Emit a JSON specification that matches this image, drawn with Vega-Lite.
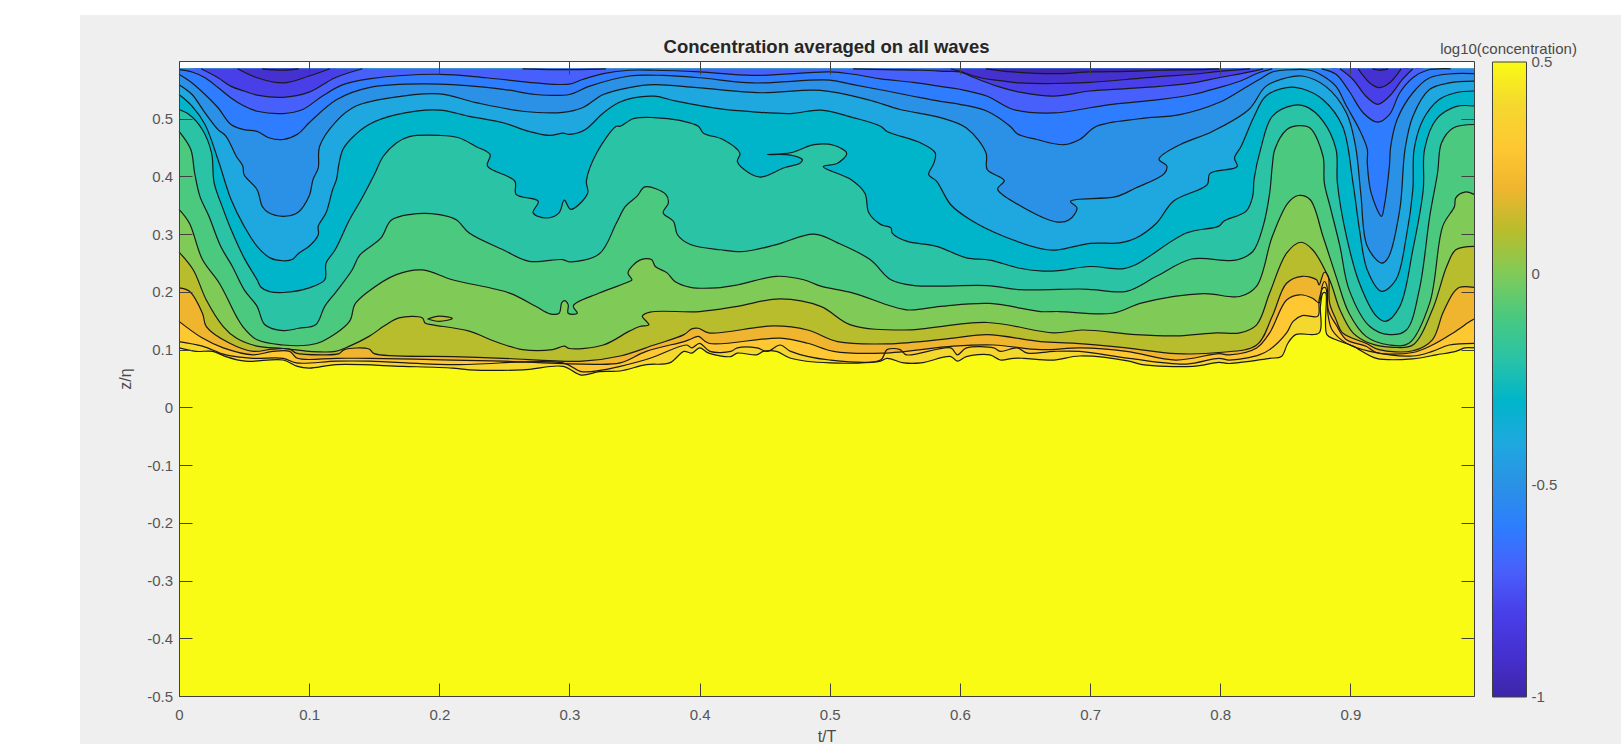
{"$schema":"https://vega.github.io/schema/vega-lite/v6.json","width":1295,"height":635,"autosize":{"type":"none"},"padding":{"left":179,"top":61,"right":147,"bottom":48},"background":"white","view":{"stroke":null},"config":{"font":"Liberation Sans"},
"title":{"text":"Concentration averaged on all waves","fontSize":18.5,"fontWeight":"bold","font":"Liberation Sans","color":"#262626","offset":-42},
"datasets":{"panel":[{"t0":-0.0761,"t1":1.108,"z0":-0.5831,"z1":0.6797}],"plot":[{"t0":0,"t1":0.995,"z0":-0.5,"z1":0.6}],
"contours":[
{"level":0.5,"t":0,"z":-0.5},{"level":0.5,"t":0.995,"z":-0.5},
{"level":0.4,"t":0,"z":0.103},{"level":0.4,"t":0.013,"z":0.097},{"level":0.4,"t":0.026,"z":0.097},{"level":0.4,"t":0.036,"z":0.088},{"level":0.4,"t":0.051,"z":0.08},{"level":0.4,"t":0.08,"z":0.082},{"level":0.4,"t":0.091,"z":0.071},{"level":0.4,"t":0.1,"z":0.068},{"level":0.4,"t":0.121,"z":0.074},{"level":0.4,"t":0.172,"z":0.071},{"level":0.4,"t":0.21,"z":0.068},{"level":0.4,"t":0.223,"z":0.065},{"level":0.4,"t":0.264,"z":0.065},{"level":0.4,"t":0.295,"z":0.071},{"level":0.4,"t":0.309,"z":0.056},{"level":0.4,"t":0.323,"z":0.062},{"level":0.4,"t":0.339,"z":0.063},{"level":0.4,"t":0.359,"z":0.074},{"level":0.4,"t":0.377,"z":0.077},{"level":0.4,"t":0.388,"z":0.097},{"level":0.4,"t":0.394,"z":0.094},{"level":0.4,"t":0.4,"z":0.103},{"level":0.4,"t":0.407,"z":0.094},{"level":0.4,"t":0.424,"z":0.088},{"level":0.4,"t":0.429,"z":0.094},{"level":0.4,"t":0.444,"z":0.091},{"level":0.4,"t":0.449,"z":0.097},{"level":0.4,"t":0.459,"z":0.097},{"level":0.4,"t":0.47,"z":0.085},{"level":0.4,"t":0.5,"z":0.077},{"level":0.4,"t":0.539,"z":0.08},{"level":0.4,"t":0.544,"z":0.085},{"level":0.4,"t":0.557,"z":0.077},{"level":0.4,"t":0.57,"z":0.077},{"level":0.4,"t":0.593,"z":0.088},{"level":0.4,"t":0.598,"z":0.08},{"level":0.4,"t":0.605,"z":0.088},{"level":0.4,"t":0.623,"z":0.091},{"level":0.4,"t":0.631,"z":0.082},{"level":0.4,"t":0.641,"z":0.085},{"level":0.4,"t":0.649,"z":0.085},{"level":0.4,"t":0.672,"z":0.082},{"level":0.4,"t":0.692,"z":0.089},{"level":0.4,"t":0.73,"z":0.08},{"level":0.4,"t":0.74,"z":0.074},{"level":0.4,"t":0.779,"z":0.071},{"level":0.4,"t":0.799,"z":0.078},{"level":0.4,"t":0.807,"z":0.076},{"level":0.4,"t":0.838,"z":0.085},{"level":0.4,"t":0.847,"z":0.088},{"level":0.4,"t":0.852,"z":0.111},{"level":0.4,"t":0.858,"z":0.126},{"level":0.4,"t":0.876,"z":0.129},{"level":0.4,"t":0.877,"z":0.175},{"level":0.4,"t":0.879,"z":0.198},{"level":0.4,"t":0.881,"z":0.198},{"level":0.4,"t":0.882,"z":0.126},{"level":0.4,"t":0.889,"z":0.117},{"level":0.4,"t":0.902,"z":0.106},{"level":0.4,"t":0.92,"z":0.085},{"level":0.4,"t":0.948,"z":0.084},{"level":0.4,"t":0.966,"z":0.091},{"level":0.4,"t":0.981,"z":0.097},{"level":0.4,"t":0.988,"z":0.103},{"level":0.4,"t":0.995,"z":0.103},
{"level":0.3,"t":0,"z":0.114},{"level":0.3,"t":0.018,"z":0.106},{"level":0.3,"t":0.036,"z":0.091},{"level":0.3,"t":0.057,"z":0.085},{"level":0.3,"t":0.08,"z":0.085},{"level":0.3,"t":0.09,"z":0.077},{"level":0.3,"t":0.121,"z":0.08},{"level":0.3,"t":0.146,"z":0.08},{"level":0.3,"t":0.21,"z":0.074},{"level":0.3,"t":0.295,"z":0.077},{"level":0.3,"t":0.309,"z":0.062},{"level":0.3,"t":0.326,"z":0.065},{"level":0.3,"t":0.339,"z":0.071},{"level":0.3,"t":0.362,"z":0.085},{"level":0.3,"t":0.39,"z":0.108},{"level":0.3,"t":0.394,"z":0.103},{"level":0.3,"t":0.4,"z":0.111},{"level":0.3,"t":0.408,"z":0.097},{"level":0.3,"t":0.424,"z":0.097},{"level":0.3,"t":0.429,"z":0.103},{"level":0.3,"t":0.444,"z":0.103},{"level":0.3,"t":0.452,"z":0.097},{"level":0.3,"t":0.462,"z":0.108},{"level":0.3,"t":0.47,"z":0.097},{"level":0.3,"t":0.5,"z":0.082},{"level":0.3,"t":0.539,"z":0.082},{"level":0.3,"t":0.544,"z":0.1},{"level":0.3,"t":0.554,"z":0.1},{"level":0.3,"t":0.559,"z":0.091},{"level":0.3,"t":0.593,"z":0.103},{"level":0.3,"t":0.598,"z":0.091},{"level":0.3,"t":0.605,"z":0.103},{"level":0.3,"t":0.626,"z":0.103},{"level":0.3,"t":0.631,"z":0.097},{"level":0.3,"t":0.644,"z":0.103},{"level":0.3,"t":0.652,"z":0.094},{"level":0.3,"t":0.672,"z":0.097},{"level":0.3,"t":0.692,"z":0.097},{"level":0.3,"t":0.73,"z":0.085},{"level":0.3,"t":0.774,"z":0.075},{"level":0.3,"t":0.799,"z":0.085},{"level":0.3,"t":0.807,"z":0.082},{"level":0.3,"t":0.83,"z":0.091},{"level":0.3,"t":0.838,"z":0.1},{"level":0.3,"t":0.851,"z":0.129},{"level":0.3,"t":0.856,"z":0.149},{"level":0.3,"t":0.863,"z":0.159},{"level":0.3,"t":0.875,"z":0.158},{"level":0.3,"t":0.876,"z":0.186},{"level":0.3,"t":0.879,"z":0.207},{"level":0.3,"t":0.881,"z":0.207},{"level":0.3,"t":0.883,"z":0.158},{"level":0.3,"t":0.886,"z":0.134},{"level":0.3,"t":0.897,"z":0.111},{"level":0.3,"t":0.915,"z":0.097},{"level":0.3,"t":0.948,"z":0.089},{"level":0.3,"t":0.963,"z":0.097},{"level":0.3,"t":0.976,"z":0.108},{"level":0.3,"t":0.995,"z":0.111},
{"level":0.2,"t":0,"z":0.149},{"level":0.2,"t":0.018,"z":0.12},{"level":0.2,"t":0.034,"z":0.103},{"level":0.2,"t":0.057,"z":0.091},{"level":0.2,"t":0.072,"z":0.097},{"level":0.2,"t":0.085,"z":0.097},{"level":0.2,"t":0.091,"z":0.085},{"level":0.2,"t":0.121,"z":0.085},{"level":0.2,"t":0.146,"z":0.085},{"level":0.2,"t":0.21,"z":0.082},{"level":0.2,"t":0.249,"z":0.08},{"level":0.2,"t":0.31,"z":0.075},{"level":0.2,"t":0.339,"z":0.077},{"level":0.2,"t":0.359,"z":0.097},{"level":0.2,"t":0.388,"z":0.114},{"level":0.2,"t":0.393,"z":0.118},{"level":0.2,"t":0.399,"z":0.123},{"level":0.2,"t":0.407,"z":0.111},{"level":0.2,"t":0.462,"z":0.12},{"level":0.2,"t":0.483,"z":0.111},{"level":0.2,"t":0.503,"z":0.097},{"level":0.2,"t":0.541,"z":0.094},{"level":0.2,"t":0.595,"z":0.106},{"level":0.2,"t":0.626,"z":0.108},{"level":0.2,"t":0.662,"z":0.1},{"level":0.2,"t":0.693,"z":0.103},{"level":0.2,"t":0.728,"z":0.097},{"level":0.2,"t":0.766,"z":0.082},{"level":0.2,"t":0.799,"z":0.093},{"level":0.2,"t":0.807,"z":0.091},{"level":0.2,"t":0.828,"z":0.103},{"level":0.2,"t":0.838,"z":0.129},{"level":0.2,"t":0.851,"z":0.186},{"level":0.2,"t":0.861,"z":0.195},{"level":0.2,"t":0.871,"z":0.189},{"level":0.2,"t":0.876,"z":0.181},{"level":0.2,"t":0.878,"z":0.207},{"level":0.2,"t":0.88,"z":0.218},{"level":0.2,"t":0.882,"z":0.21},{"level":0.2,"t":0.883,"z":0.169},{"level":0.2,"t":0.889,"z":0.143},{"level":0.2,"t":0.897,"z":0.117},{"level":0.2,"t":0.912,"z":0.106},{"level":0.2,"t":0.92,"z":0.095},{"level":0.2,"t":0.948,"z":0.095},{"level":0.2,"t":0.963,"z":0.108},{"level":0.2,"t":0.979,"z":0.129},{"level":0.2,"t":0.992,"z":0.149},{"level":0.2,"t":0.995,"z":0.153},
{"level":0.1,"t":0,"z":0.207},{"level":0.1,"t":0.008,"z":0.201},{"level":0.1,"t":0.018,"z":0.163},{"level":0.1,"t":0.021,"z":0.14},{"level":0.1,"t":0.039,"z":0.111},{"level":0.1,"t":0.057,"z":0.097},{"level":0.1,"t":0.072,"z":0.101},{"level":0.1,"t":0.085,"z":0.101},{"level":0.1,"t":0.09,"z":0.094},{"level":0.1,"t":0.11,"z":0.091},{"level":0.1,"t":0.123,"z":0.093},{"level":0.1,"t":0.127,"z":0.1},{"level":0.1,"t":0.146,"z":0.101},{"level":0.1,"t":0.15,"z":0.093},{"level":0.1,"t":0.21,"z":0.088},{"level":0.1,"t":0.249,"z":0.085},{"level":0.1,"t":0.31,"z":0.08},{"level":0.1,"t":0.339,"z":0.089},{"level":0.1,"t":0.365,"z":0.108},{"level":0.1,"t":0.388,"z":0.126},{"level":0.1,"t":0.394,"z":0.136},{"level":0.1,"t":0.399,"z":0.137},{"level":0.1,"t":0.407,"z":0.129},{"level":0.1,"t":0.457,"z":0.141},{"level":0.1,"t":0.483,"z":0.134},{"level":0.1,"t":0.506,"z":0.114},{"level":0.1,"t":0.544,"z":0.11},{"level":0.1,"t":0.595,"z":0.12},{"level":0.1,"t":0.621,"z":0.126},{"level":0.1,"t":0.662,"z":0.114},{"level":0.1,"t":0.689,"z":0.111},{"level":0.1,"t":0.728,"z":0.103},{"level":0.1,"t":0.766,"z":0.093},{"level":0.1,"t":0.799,"z":0.095},{"level":0.1,"t":0.828,"z":0.108},{"level":0.1,"t":0.84,"z":0.158},{"level":0.1,"t":0.851,"z":0.215},{"level":0.1,"t":0.863,"z":0.227},{"level":0.1,"t":0.874,"z":0.221},{"level":0.1,"t":0.876,"z":0.212},{"level":0.1,"t":0.878,"z":0.224},{"level":0.1,"t":0.88,"z":0.234},{"level":0.1,"t":0.883,"z":0.227},{"level":0.1,"t":0.884,"z":0.181},{"level":0.1,"t":0.889,"z":0.152},{"level":0.1,"t":0.894,"z":0.129},{"level":0.1,"t":0.912,"z":0.111},{"level":0.1,"t":0.922,"z":0.1},{"level":0.1,"t":0.948,"z":0.098},{"level":0.1,"t":0.963,"z":0.117},{"level":0.1,"t":0.971,"z":0.163},{"level":0.1,"t":0.979,"z":0.198},{"level":0.1,"t":0.984,"z":0.208},{"level":0.1,"t":0.995,"z":0.208},
{"level":0,"t":0,"z":0.269},{"level":0,"t":0.011,"z":0.238},{"level":0,"t":0.021,"z":0.186},{"level":0,"t":0.034,"z":0.14},{"level":0,"t":0.044,"z":0.12},{"level":0,"t":0.06,"z":0.106},{"level":0,"t":0.08,"z":0.102},{"level":0,"t":0.1,"z":0.097},{"level":0,"t":0.12,"z":0.097},{"level":0,"t":0.131,"z":0.106},{"level":0,"t":0.146,"z":0.123},{"level":0,"t":0.159,"z":0.143},{"level":0,"t":0.169,"z":0.155},{"level":0,"t":0.187,"z":0.155},{"level":0,"t":0.189,"z":0.146},{"level":0,"t":0.195,"z":0.143},{"level":0,"t":0.223,"z":0.132},{"level":0,"t":0.243,"z":0.114},{"level":0,"t":0.264,"z":0.1},{"level":0,"t":0.287,"z":0.1},{"level":0,"t":0.296,"z":0.106},{"level":0,"t":0.3,"z":0.102},{"level":0,"t":0.326,"z":0.108},{"level":0,"t":0.346,"z":0.132},{"level":0,"t":0.354,"z":0.14},{"level":0,"t":0.361,"z":0.143},{"level":0,"t":0.356,"z":0.158},{"level":0,"t":0.362,"z":0.165},{"level":0,"t":0.4,"z":0.166},{"level":0,"t":0.429,"z":0.175},{"level":0,"t":0.462,"z":0.188},{"level":0,"t":0.493,"z":0.175},{"level":0,"t":0.516,"z":0.143},{"level":0,"t":0.557,"z":0.134},{"level":0,"t":0.621,"z":0.147},{"level":0,"t":0.672,"z":0.129},{"level":0,"t":0.694,"z":0.134},{"level":0,"t":0.735,"z":0.126},{"level":0,"t":0.769,"z":0.124},{"level":0,"t":0.797,"z":0.129},{"level":0,"t":0.815,"z":0.129},{"level":0,"t":0.828,"z":0.143},{"level":0,"t":0.838,"z":0.198},{"level":0,"t":0.851,"z":0.267},{"level":0,"t":0.862,"z":0.286},{"level":0,"t":0.871,"z":0.273},{"level":0,"t":0.884,"z":0.221},{"level":0,"t":0.892,"z":0.169},{"level":0,"t":0.902,"z":0.129},{"level":0,"t":0.915,"z":0.111},{"level":0,"t":0.933,"z":0.104},{"level":0,"t":0.948,"z":0.108},{"level":0,"t":0.963,"z":0.169},{"level":0,"t":0.974,"z":0.244},{"level":0,"t":0.981,"z":0.273},{"level":0,"t":0.995,"z":0.279},
{"level":-0.1,"t":0,"z":0.343},{"level":-0.1,"t":0.008,"z":0.319},{"level":-0.1,"t":0.018,"z":0.256},{"level":-0.1,"t":0.031,"z":0.215},{"level":-0.1,"t":0.044,"z":0.158},{"level":-0.1,"t":0.049,"z":0.14},{"level":-0.1,"t":0.06,"z":0.117},{"level":-0.1,"t":0.08,"z":0.108},{"level":-0.1,"t":0.1,"z":0.108},{"level":-0.1,"t":0.11,"z":0.114},{"level":-0.1,"t":0.131,"z":0.149},{"level":-0.1,"t":0.135,"z":0.178},{"level":-0.1,"t":0.144,"z":0.198},{"level":-0.1,"t":0.167,"z":0.23},{"level":-0.1,"t":0.187,"z":0.238},{"level":-0.1,"t":0.21,"z":0.221},{"level":-0.1,"t":0.254,"z":0.198},{"level":-0.1,"t":0.274,"z":0.175},{"level":-0.1,"t":0.285,"z":0.162},{"level":-0.1,"t":0.292,"z":0.163},{"level":-0.1,"t":0.294,"z":0.181},{"level":-0.1,"t":0.296,"z":0.185},{"level":-0.1,"t":0.299,"z":0.178},{"level":-0.1,"t":0.299,"z":0.163},{"level":-0.1,"t":0.306,"z":0.163},{"level":-0.1,"t":0.303,"z":0.176},{"level":-0.1,"t":0.323,"z":0.198},{"level":-0.1,"t":0.346,"z":0.218},{"level":-0.1,"t":0.348,"z":0.221},{"level":-0.1,"t":0.345,"z":0.233},{"level":-0.1,"t":0.354,"z":0.255},{"level":-0.1,"t":0.363,"z":0.256},{"level":-0.1,"t":0.366,"z":0.244},{"level":-0.1,"t":0.375,"z":0.233},{"level":-0.1,"t":0.381,"z":0.218},{"level":-0.1,"t":0.393,"z":0.208},{"level":-0.1,"t":0.413,"z":0.207},{"level":-0.1,"t":0.429,"z":0.212},{"level":-0.1,"t":0.459,"z":0.227},{"level":-0.1,"t":0.48,"z":0.221},{"level":-0.1,"t":0.493,"z":0.21},{"level":-0.1,"t":0.518,"z":0.198},{"level":-0.1,"t":0.559,"z":0.169},{"level":-0.1,"t":0.585,"z":0.175},{"level":-0.1,"t":0.623,"z":0.18},{"level":-0.1,"t":0.662,"z":0.166},{"level":-0.1,"t":0.676,"z":0.166},{"level":-0.1,"t":0.717,"z":0.163},{"level":-0.1,"t":0.74,"z":0.181},{"level":-0.1,"t":0.787,"z":0.197},{"level":-0.1,"t":0.815,"z":0.192},{"level":-0.1,"t":0.828,"z":0.21},{"level":-0.1,"t":0.84,"z":0.296},{"level":-0.1,"t":0.852,"z":0.354},{"level":-0.1,"t":0.86,"z":0.367},{"level":-0.1,"t":0.869,"z":0.36},{"level":-0.1,"t":0.879,"z":0.296},{"level":-0.1,"t":0.889,"z":0.227},{"level":-0.1,"t":0.899,"z":0.163},{"level":-0.1,"t":0.912,"z":0.123},{"level":-0.1,"t":0.93,"z":0.108},{"level":-0.1,"t":0.945,"z":0.111},{"level":-0.1,"t":0.961,"z":0.181},{"level":-0.1,"t":0.971,"z":0.314},{"level":-0.1,"t":0.98,"z":0.348},{"level":-0.1,"t":0.981,"z":0.363},{"level":-0.1,"t":0.988,"z":0.373},{"level":-0.1,"t":0.995,"z":0.369},
{"level":-0.2,"t":0,"z":0.478},{"level":-0.2,"t":0.009,"z":0.447},{"level":-0.2,"t":0.012,"z":0.406},{"level":-0.2,"t":0.016,"z":0.366},{"level":-0.2,"t":0.023,"z":0.331},{"level":-0.2,"t":0.032,"z":0.279},{"level":-0.2,"t":0.041,"z":0.244},{"level":-0.2,"t":0.05,"z":0.204},{"level":-0.2,"t":0.06,"z":0.175},{"level":-0.2,"t":0.066,"z":0.143},{"level":-0.2,"t":0.08,"z":0.133},{"level":-0.2,"t":0.092,"z":0.137},{"level":-0.2,"t":0.105,"z":0.143},{"level":-0.2,"t":0.112,"z":0.175},{"level":-0.2,"t":0.121,"z":0.201},{"level":-0.2,"t":0.133,"z":0.238},{"level":-0.2,"t":0.139,"z":0.264},{"level":-0.2,"t":0.155,"z":0.293},{"level":-0.2,"t":0.163,"z":0.324},{"level":-0.2,"t":0.177,"z":0.334},{"level":-0.2,"t":0.2,"z":0.334},{"level":-0.2,"t":0.213,"z":0.325},{"level":-0.2,"t":0.223,"z":0.302},{"level":-0.2,"t":0.249,"z":0.273},{"level":-0.2,"t":0.269,"z":0.253},{"level":-0.2,"t":0.295,"z":0.256},{"level":-0.2,"t":0.3,"z":0.252},{"level":-0.2,"t":0.323,"z":0.266},{"level":-0.2,"t":0.336,"z":0.319},{"level":-0.2,"t":0.343,"z":0.348},{"level":-0.2,"t":0.352,"z":0.366},{"level":-0.2,"t":0.358,"z":0.382},{"level":-0.2,"t":0.374,"z":0.369},{"level":-0.2,"t":0.376,"z":0.354},{"level":-0.2,"t":0.372,"z":0.337},{"level":-0.2,"t":0.38,"z":0.322},{"level":-0.2,"t":0.383,"z":0.299},{"level":-0.2,"t":0.393,"z":0.282},{"level":-0.2,"t":0.416,"z":0.273},{"level":-0.2,"t":0.434,"z":0.27},{"level":-0.2,"t":0.459,"z":0.282},{"level":-0.2,"t":0.488,"z":0.3},{"level":-0.2,"t":0.506,"z":0.285},{"level":-0.2,"t":0.531,"z":0.256},{"level":-0.2,"t":0.547,"z":0.221},{"level":-0.2,"t":0.565,"z":0.211},{"level":-0.2,"t":0.621,"z":0.211},{"level":-0.2,"t":0.646,"z":0.204},{"level":-0.2,"t":0.692,"z":0.205},{"level":-0.2,"t":0.702,"z":0.204},{"level":-0.2,"t":0.728,"z":0.201},{"level":-0.2,"t":0.751,"z":0.227},{"level":-0.2,"t":0.778,"z":0.257},{"level":-0.2,"t":0.812,"z":0.255},{"level":-0.2,"t":0.825,"z":0.27},{"level":-0.2,"t":0.833,"z":0.314},{"level":-0.2,"t":0.838,"z":0.371},{"level":-0.2,"t":0.84,"z":0.418},{"level":-0.2,"t":0.842,"z":0.447},{"level":-0.2,"t":0.851,"z":0.481},{"level":-0.2,"t":0.86,"z":0.488},{"level":-0.2,"t":0.869,"z":0.484},{"level":-0.2,"t":0.879,"z":0.435},{"level":-0.2,"t":0.88,"z":0.389},{"level":-0.2,"t":0.885,"z":0.343},{"level":-0.2,"t":0.892,"z":0.279},{"level":-0.2,"t":0.899,"z":0.204},{"level":-0.2,"t":0.915,"z":0.14},{"level":-0.2,"t":0.93,"z":0.126},{"level":-0.2,"t":0.943,"z":0.134},{"level":-0.2,"t":0.953,"z":0.204},{"level":-0.2,"t":0.961,"z":0.331},{"level":-0.2,"t":0.967,"z":0.406},{"level":-0.2,"t":0.97,"z":0.458},{"level":-0.2,"t":0.979,"z":0.484},{"level":-0.2,"t":0.995,"z":0.49},
{"level":-0.3,"t":0,"z":0.516},{"level":-0.3,"t":0.008,"z":0.507},{"level":-0.3,"t":0.018,"z":0.481},{"level":-0.3,"t":0.025,"z":0.441},{"level":-0.3,"t":0.027,"z":0.389},{"level":-0.3,"t":0.034,"z":0.343},{"level":-0.3,"t":0.04,"z":0.308},{"level":-0.3,"t":0.05,"z":0.259},{"level":-0.3,"t":0.06,"z":0.221},{"level":-0.3,"t":0.063,"z":0.208},{"level":-0.3,"t":0.069,"z":0.201},{"level":-0.3,"t":0.08,"z":0.199},{"level":-0.3,"t":0.1,"z":0.207},{"level":-0.3,"t":0.112,"z":0.221},{"level":-0.3,"t":0.113,"z":0.25},{"level":-0.3,"t":0.12,"z":0.273},{"level":-0.3,"t":0.131,"z":0.325},{"level":-0.3,"t":0.14,"z":0.36},{"level":-0.3,"t":0.15,"z":0.403},{"level":-0.3,"t":0.157,"z":0.435},{"level":-0.3,"t":0.167,"z":0.458},{"level":-0.3,"t":0.177,"z":0.469},{"level":-0.3,"t":0.2,"z":0.471},{"level":-0.3,"t":0.215,"z":0.467},{"level":-0.3,"t":0.228,"z":0.452},{"level":-0.3,"t":0.239,"z":0.438},{"level":-0.3,"t":0.237,"z":0.418},{"level":-0.3,"t":0.258,"z":0.392},{"level":-0.3,"t":0.259,"z":0.369},{"level":-0.3,"t":0.276,"z":0.357},{"level":-0.3,"t":0.272,"z":0.337},{"level":-0.3,"t":0.282,"z":0.328},{"level":-0.3,"t":0.292,"z":0.337},{"level":-0.3,"t":0.296,"z":0.359},{"level":-0.3,"t":0.301,"z":0.343},{"level":-0.3,"t":0.314,"z":0.371},{"level":-0.3,"t":0.313,"z":0.392},{"level":-0.3,"t":0.321,"z":0.441},{"level":-0.3,"t":0.336,"z":0.487},{"level":-0.3,"t":0.339,"z":0.487},{"level":-0.3,"t":0.349,"z":0.5},{"level":-0.3,"t":0.365,"z":0.502},{"level":-0.3,"t":0.385,"z":0.497},{"level":-0.3,"t":0.399,"z":0.487},{"level":-0.3,"t":0.403,"z":0.475},{"level":-0.3,"t":0.418,"z":0.464},{"level":-0.3,"t":0.431,"z":0.44},{"level":-0.3,"t":0.429,"z":0.426},{"level":-0.3,"t":0.438,"z":0.406},{"level":-0.3,"t":0.447,"z":0.399},{"level":-0.3,"t":0.465,"z":0.415},{"level":-0.3,"t":0.477,"z":0.423},{"level":-0.3,"t":0.479,"z":0.429},{"level":-0.3,"t":0.47,"z":0.437},{"level":-0.3,"t":0.452,"z":0.438},{"level":-0.3,"t":0.47,"z":0.441},{"level":-0.3,"t":0.488,"z":0.455},{"level":-0.3,"t":0.503,"z":0.454},{"level":-0.3,"t":0.513,"z":0.44},{"level":-0.3,"t":0.506,"z":0.423},{"level":-0.3,"t":0.495,"z":0.417},{"level":-0.3,"t":0.516,"z":0.395},{"level":-0.3,"t":0.527,"z":0.371},{"level":-0.3,"t":0.53,"z":0.337},{"level":-0.3,"t":0.539,"z":0.317},{"level":-0.3,"t":0.547,"z":0.311},{"level":-0.3,"t":0.548,"z":0.302},{"level":-0.3,"t":0.559,"z":0.288},{"level":-0.3,"t":0.582,"z":0.279},{"level":-0.3,"t":0.605,"z":0.259},{"level":-0.3,"t":0.623,"z":0.255},{"level":-0.3,"t":0.646,"z":0.241},{"level":-0.3,"t":0.664,"z":0.236},{"level":-0.3,"t":0.676,"z":0.237},{"level":-0.3,"t":0.7,"z":0.244},{"level":-0.3,"t":0.725,"z":0.24},{"level":-0.3,"t":0.735,"z":0.247},{"level":-0.3,"t":0.774,"z":0.302},{"level":-0.3,"t":0.799,"z":0.314},{"level":-0.3,"t":0.803,"z":0.323},{"level":-0.3,"t":0.82,"z":0.34},{"level":-0.3,"t":0.825,"z":0.366},{"level":-0.3,"t":0.826,"z":0.395},{"level":-0.3,"t":0.831,"z":0.447},{"level":-0.3,"t":0.84,"z":0.504},{"level":-0.3,"t":0.856,"z":0.523},{"level":-0.3,"t":0.866,"z":0.521},{"level":-0.3,"t":0.879,"z":0.496},{"level":-0.3,"t":0.889,"z":0.447},{"level":-0.3,"t":0.89,"z":0.389},{"level":-0.3,"t":0.897,"z":0.296},{"level":-0.3,"t":0.907,"z":0.215},{"level":-0.3,"t":0.92,"z":0.158},{"level":-0.3,"t":0.927,"z":0.149},{"level":-0.3,"t":0.938,"z":0.175},{"level":-0.3,"t":0.948,"z":0.273},{"level":-0.3,"t":0.956,"z":0.377},{"level":-0.3,"t":0.957,"z":0.447},{"level":-0.3,"t":0.966,"z":0.499},{"level":-0.3,"t":0.981,"z":0.521},{"level":-0.3,"t":0.995,"z":0.522},
{"level":-0.4,"t":0,"z":0.542},{"level":-0.4,"t":0.01,"z":0.522},{"level":-0.4,"t":0.02,"z":0.49},{"level":-0.4,"t":0.03,"z":0.429},{"level":-0.4,"t":0.04,"z":0.36},{"level":-0.4,"t":0.05,"z":0.314},{"level":-0.4,"t":0.06,"z":0.279},{"level":-0.4,"t":0.07,"z":0.259},{"level":-0.4,"t":0.08,"z":0.254},{"level":-0.4,"t":0.087,"z":0.256},{"level":-0.4,"t":0.092,"z":0.267},{"level":-0.4,"t":0.1,"z":0.279},{"level":-0.4,"t":0.107,"z":0.299},{"level":-0.4,"t":0.107,"z":0.314},{"level":-0.4,"t":0.113,"z":0.337},{"level":-0.4,"t":0.118,"z":0.377},{"level":-0.4,"t":0.121,"z":0.395},{"level":-0.4,"t":0.123,"z":0.423},{"level":-0.4,"t":0.126,"z":0.447},{"level":-0.4,"t":0.133,"z":0.467},{"level":-0.4,"t":0.146,"z":0.49},{"level":-0.4,"t":0.167,"z":0.507},{"level":-0.4,"t":0.2,"z":0.515},{"level":-0.4,"t":0.223,"z":0.504},{"level":-0.4,"t":0.249,"z":0.493},{"level":-0.4,"t":0.269,"z":0.478},{"level":-0.4,"t":0.285,"z":0.471},{"level":-0.4,"t":0.295,"z":0.475},{"level":-0.4,"t":0.3,"z":0.473},{"level":-0.4,"t":0.312,"z":0.481},{"level":-0.4,"t":0.326,"z":0.51},{"level":-0.4,"t":0.338,"z":0.528},{"level":-0.4,"t":0.349,"z":0.536},{"level":-0.4,"t":0.365,"z":0.539},{"level":-0.4,"t":0.383,"z":0.53},{"level":-0.4,"t":0.416,"z":0.517},{"level":-0.4,"t":0.441,"z":0.512},{"level":-0.4,"t":0.47,"z":0.509},{"level":-0.4,"t":0.493,"z":0.515},{"level":-0.4,"t":0.518,"z":0.502},{"level":-0.4,"t":0.539,"z":0.487},{"level":-0.4,"t":0.544,"z":0.478},{"level":-0.4,"t":0.57,"z":0.458},{"level":-0.4,"t":0.581,"z":0.441},{"level":-0.4,"t":0.58,"z":0.423},{"level":-0.4,"t":0.576,"z":0.403},{"level":-0.4,"t":0.582,"z":0.392},{"level":-0.4,"t":0.593,"z":0.351},{"level":-0.4,"t":0.608,"z":0.325},{"level":-0.4,"t":0.634,"z":0.296},{"level":-0.4,"t":0.667,"z":0.273},{"level":-0.4,"t":0.676,"z":0.273},{"level":-0.4,"t":0.7,"z":0.284},{"level":-0.4,"t":0.723,"z":0.285},{"level":-0.4,"t":0.735,"z":0.293},{"level":-0.4,"t":0.751,"z":0.319},{"level":-0.4,"t":0.764,"z":0.357},{"level":-0.4,"t":0.79,"z":0.386},{"level":-0.4,"t":0.792,"z":0.405},{"level":-0.4,"t":0.813,"z":0.417},{"level":-0.4,"t":0.811,"z":0.432},{"level":-0.4,"t":0.816,"z":0.452},{"level":-0.4,"t":0.826,"z":0.504},{"level":-0.4,"t":0.835,"z":0.539},{"level":-0.4,"t":0.851,"z":0.554},{"level":-0.4,"t":0.863,"z":0.552},{"level":-0.4,"t":0.879,"z":0.533},{"level":-0.4,"t":0.894,"z":0.487},{"level":-0.4,"t":0.902,"z":0.389},{"level":-0.4,"t":0.907,"z":0.308},{"level":-0.4,"t":0.913,"z":0.238},{"level":-0.4,"t":0.924,"z":0.201},{"level":-0.4,"t":0.935,"z":0.221},{"level":-0.4,"t":0.943,"z":0.296},{"level":-0.4,"t":0.948,"z":0.377},{"level":-0.4,"t":0.949,"z":0.447},{"level":-0.4,"t":0.956,"z":0.499},{"level":-0.4,"t":0.968,"z":0.533},{"level":-0.4,"t":0.981,"z":0.545},{"level":-0.4,"t":0.995,"z":0.548},
{"level":-0.5,"t":0,"z":0.559},{"level":-0.5,"t":0.01,"z":0.542},{"level":-0.5,"t":0.02,"z":0.51},{"level":-0.5,"t":0.03,"z":0.481},{"level":-0.5,"t":0.036,"z":0.47},{"level":-0.5,"t":0.044,"z":0.435},{"level":-0.5,"t":0.049,"z":0.418},{"level":-0.5,"t":0.05,"z":0.403},{"level":-0.5,"t":0.06,"z":0.377},{"level":-0.5,"t":0.064,"z":0.348},{"level":-0.5,"t":0.069,"z":0.337},{"level":-0.5,"t":0.08,"z":0.331},{"level":-0.5,"t":0.091,"z":0.337},{"level":-0.5,"t":0.1,"z":0.366},{"level":-0.5,"t":0.103,"z":0.395},{"level":-0.5,"t":0.107,"z":0.415},{"level":-0.5,"t":0.108,"z":0.452},{"level":-0.5,"t":0.121,"z":0.496},{"level":-0.5,"t":0.136,"z":0.522},{"level":-0.5,"t":0.162,"z":0.536},{"level":-0.5,"t":0.2,"z":0.543},{"level":-0.5,"t":0.228,"z":0.528},{"level":-0.5,"t":0.264,"z":0.513},{"level":-0.5,"t":0.295,"z":0.511},{"level":-0.5,"t":0.31,"z":0.519},{"level":-0.5,"t":0.326,"z":0.542},{"level":-0.5,"t":0.346,"z":0.554},{"level":-0.5,"t":0.365,"z":0.559},{"level":-0.5,"t":0.398,"z":0.554},{"level":-0.5,"t":0.447,"z":0.545},{"level":-0.5,"t":0.493,"z":0.549},{"level":-0.5,"t":0.529,"z":0.533},{"level":-0.5,"t":0.554,"z":0.516},{"level":-0.5,"t":0.585,"z":0.502},{"level":-0.5,"t":0.605,"z":0.484},{"level":-0.5,"t":0.62,"z":0.441},{"level":-0.5,"t":0.621,"z":0.412},{"level":-0.5,"t":0.634,"z":0.393},{"level":-0.5,"t":0.629,"z":0.378},{"level":-0.5,"t":0.645,"z":0.351},{"level":-0.5,"t":0.675,"z":0.321},{"level":-0.5,"t":0.684,"z":0.325},{"level":-0.5,"t":0.69,"z":0.345},{"level":-0.5,"t":0.685,"z":0.357},{"level":-0.5,"t":0.72,"z":0.365},{"level":-0.5,"t":0.735,"z":0.38},{"level":-0.5,"t":0.757,"z":0.405},{"level":-0.5,"t":0.759,"z":0.418},{"level":-0.5,"t":0.753,"z":0.43},{"level":-0.5,"t":0.769,"z":0.455},{"level":-0.5,"t":0.794,"z":0.478},{"level":-0.5,"t":0.822,"z":0.516},{"level":-0.5,"t":0.835,"z":0.556},{"level":-0.5,"t":0.851,"z":0.571},{"level":-0.5,"t":0.863,"z":0.574},{"level":-0.5,"t":0.881,"z":0.556},{"level":-0.5,"t":0.897,"z":0.51},{"level":-0.5,"t":0.904,"z":0.452},{"level":-0.5,"t":0.908,"z":0.371},{"level":-0.5,"t":0.913,"z":0.279},{"level":-0.5,"t":0.924,"z":0.25},{"level":-0.5,"t":0.929,"z":0.259},{"level":-0.5,"t":0.938,"z":0.343},{"level":-0.5,"t":0.942,"z":0.447},{"level":-0.5,"t":0.948,"z":0.504},{"level":-0.5,"t":0.961,"z":0.551},{"level":-0.5,"t":0.976,"z":0.562},{"level":-0.5,"t":0.995,"z":0.565},
{"level":-0.6,"t":0,"z":0.577},{"level":-0.6,"t":0.01,"z":0.562},{"level":-0.6,"t":0.02,"z":0.542},{"level":-0.6,"t":0.03,"z":0.519},{"level":-0.6,"t":0.04,"z":0.49},{"level":-0.6,"t":0.05,"z":0.481},{"level":-0.6,"t":0.06,"z":0.478},{"level":-0.6,"t":0.069,"z":0.467},{"level":-0.6,"t":0.08,"z":0.464},{"level":-0.6,"t":0.091,"z":0.473},{"level":-0.6,"t":0.1,"z":0.493},{"level":-0.6,"t":0.121,"z":0.533},{"level":-0.6,"t":0.146,"z":0.554},{"level":-0.6,"t":0.2,"z":0.56},{"level":-0.6,"t":0.249,"z":0.551},{"level":-0.6,"t":0.274,"z":0.542},{"level":-0.6,"t":0.3,"z":0.542},{"level":-0.6,"t":0.315,"z":0.556},{"level":-0.6,"t":0.346,"z":0.574},{"level":-0.6,"t":0.372,"z":0.575},{"level":-0.6,"t":0.4,"z":0.571},{"level":-0.6,"t":0.441,"z":0.562},{"level":-0.6,"t":0.5,"z":0.567},{"level":-0.6,"t":0.518,"z":0.559},{"level":-0.6,"t":0.544,"z":0.548},{"level":-0.6,"t":0.564,"z":0.539},{"level":-0.6,"t":0.585,"z":0.53},{"level":-0.6,"t":0.6,"z":0.525},{"level":-0.6,"t":0.621,"z":0.513},{"level":-0.6,"t":0.639,"z":0.486},{"level":-0.6,"t":0.644,"z":0.474},{"level":-0.6,"t":0.659,"z":0.464},{"level":-0.6,"t":0.68,"z":0.455},{"level":-0.6,"t":0.692,"z":0.464},{"level":-0.6,"t":0.705,"z":0.487},{"level":-0.6,"t":0.738,"z":0.5},{"level":-0.6,"t":0.769,"z":0.507},{"level":-0.6,"t":0.799,"z":0.528},{"level":-0.6,"t":0.815,"z":0.548},{"level":-0.6,"t":0.83,"z":0.568},{"level":-0.6,"t":0.84,"z":0.581},{"level":-0.6,"t":0.856,"z":0.585},{"level":-0.6,"t":0.869,"z":0.584},{"level":-0.6,"t":0.879,"z":0.574},{"level":-0.6,"t":0.889,"z":0.556},{"level":-0.6,"t":0.897,"z":0.522},{"level":-0.6,"t":0.907,"z":0.481},{"level":-0.6,"t":0.913,"z":0.447},{"level":-0.6,"t":0.913,"z":0.423},{"level":-0.6,"t":0.916,"z":0.371},{"level":-0.6,"t":0.924,"z":0.331},{"level":-0.6,"t":0.926,"z":0.348},{"level":-0.6,"t":0.93,"z":0.418},{"level":-0.6,"t":0.931,"z":0.452},{"level":-0.6,"t":0.936,"z":0.499},{"level":-0.6,"t":0.948,"z":0.545},{"level":-0.6,"t":0.961,"z":0.571},{"level":-0.6,"t":0.979,"z":0.578},{"level":-0.6,"t":0.995,"z":0.578},
{"level":-0.7,"seg":"a","t":0,"z":0.585},{"level":-0.7,"seg":"a","t":0.01,"z":0.581},{"level":-0.7,"seg":"a","t":0.02,"z":0.571},{"level":-0.7,"seg":"a","t":0.03,"z":0.554},{"level":-0.7,"seg":"a","t":0.04,"z":0.536},{"level":-0.7,"seg":"a","t":0.05,"z":0.522},{"level":-0.7,"seg":"a","t":0.06,"z":0.513},{"level":-0.7,"seg":"a","t":0.08,"z":0.509},{"level":-0.7,"seg":"a","t":0.095,"z":0.516},{"level":-0.7,"seg":"a","t":0.11,"z":0.539},{"level":-0.7,"seg":"a","t":0.126,"z":0.559},{"level":-0.7,"seg":"a","t":0.146,"z":0.569},{"level":-0.7,"seg":"a","t":0.2,"z":0.577},{"level":-0.7,"seg":"a","t":0.236,"z":0.571},{"level":-0.7,"seg":"a","t":0.274,"z":0.562},{"level":-0.7,"seg":"a","t":0.3,"z":0.56},{"level":-0.7,"seg":"a","t":0.31,"z":0.568},{"level":-0.7,"seg":"a","t":0.326,"z":0.578},{"level":-0.7,"seg":"a","t":0.346,"z":0.584},{"level":-0.7,"seg":"a","t":0.365,"z":0.584},{"level":-0.7,"seg":"a","t":0.4,"z":0.581},{"level":-0.7,"seg":"a","t":0.441,"z":0.575},{"level":-0.7,"seg":"a","t":0.5,"z":0.581},{"level":-0.7,"seg":"a","t":0.518,"z":0.577},{"level":-0.7,"seg":"a","t":0.539,"z":0.569},{"level":-0.7,"seg":"a","t":0.564,"z":0.563},{"level":-0.7,"seg":"a","t":0.585,"z":0.556},{"level":-0.7,"seg":"a","t":0.6,"z":0.551},{"level":-0.7,"seg":"a","t":0.621,"z":0.539},{"level":-0.7,"seg":"a","t":0.641,"z":0.516},{"level":-0.7,"seg":"a","t":0.672,"z":0.51},{"level":-0.7,"seg":"a","t":0.7,"z":0.519},{"level":-0.7,"seg":"a","t":0.717,"z":0.525},{"level":-0.7,"seg":"a","t":0.753,"z":0.533},{"level":-0.7,"seg":"a","t":0.779,"z":0.542},{"level":-0.7,"seg":"a","t":0.799,"z":0.554},{"level":-0.7,"seg":"a","t":0.815,"z":0.565},{"level":-0.7,"seg":"a","t":0.83,"z":0.58},{"level":-0.7,"seg":"a","t":0.84,"z":0.5865},{"level":-0.7,"seg":"top","t":0.85,"z":0.5865},{"level":-0.7,"seg":"top","t":0.868,"z":0.5865},{"level":-0.7,"seg":"b","t":0.878,"z":0.5865},{"level":-0.7,"seg":"b","t":0.889,"z":0.577},{"level":-0.7,"seg":"b","t":0.899,"z":0.548},{"level":-0.7,"seg":"b","t":0.91,"z":0.51},{"level":-0.7,"seg":"b","t":0.921,"z":0.494},{"level":-0.7,"seg":"b","t":0.93,"z":0.507},{"level":-0.7,"seg":"b","t":0.938,"z":0.545},{"level":-0.7,"seg":"b","t":0.948,"z":0.571},{"level":-0.7,"seg":"b","t":0.959,"z":0.584},{"level":-0.7,"seg":"b","t":0.977,"z":0.5865},{"level":-0.7,"seg":"top","t":0.995,"z":0.5865},
{"level":-0.8,"seg":"top","t":0,"z":0.5865},{"level":-0.8,"seg":"top","t":0.008,"z":0.5865},{"level":-0.8,"seg":"a","t":0.017,"z":0.5865},{"level":-0.8,"seg":"a","t":0.03,"z":0.571},{"level":-0.8,"seg":"a","t":0.04,"z":0.556},{"level":-0.8,"seg":"a","t":0.05,"z":0.548},{"level":-0.8,"seg":"a","t":0.06,"z":0.541},{"level":-0.8,"seg":"a","t":0.08,"z":0.537},{"level":-0.8,"seg":"a","t":0.1,"z":0.546},{"level":-0.8,"seg":"a","t":0.12,"z":0.571},{"level":-0.8,"seg":"a","t":0.141,"z":0.5865},{"level":-0.8,"seg":"top","t":0.15,"z":0.5865},{"level":-0.8,"seg":"top","t":0.255,"z":0.5865},{"level":-0.8,"seg":"b","t":0.264,"z":0.5865},{"level":-0.8,"seg":"b","t":0.287,"z":0.585},{"level":-0.8,"seg":"b","t":0.3,"z":0.585},{"level":-0.8,"seg":"b","t":0.328,"z":0.5865},{"level":-0.8,"seg":"top","t":0.34,"z":0.5865},{"level":-0.8,"seg":"top","t":0.505,"z":0.5865},{"level":-0.8,"seg":"c","t":0.518,"z":0.5865},{"level":-0.8,"seg":"c","t":0.544,"z":0.585},{"level":-0.8,"seg":"c","t":0.57,"z":0.584},{"level":-0.8,"seg":"c","t":0.59,"z":0.582},{"level":-0.8,"seg":"c","t":0.6,"z":0.581},{"level":-0.8,"seg":"c","t":0.611,"z":0.571},{"level":-0.8,"seg":"c","t":0.629,"z":0.556},{"level":-0.8,"seg":"c","t":0.646,"z":0.546},{"level":-0.8,"seg":"c","t":0.672,"z":0.539},{"level":-0.8,"seg":"c","t":0.7,"z":0.548},{"level":-0.8,"seg":"c","t":0.728,"z":0.552},{"level":-0.8,"seg":"c","t":0.753,"z":0.556},{"level":-0.8,"seg":"c","t":0.779,"z":0.562},{"level":-0.8,"seg":"c","t":0.799,"z":0.571},{"level":-0.8,"seg":"c","t":0.82,"z":0.58},{"level":-0.8,"seg":"c","t":0.833,"z":0.5865},{"level":-0.8,"seg":"top","t":0.845,"z":0.5865},{"level":-0.8,"seg":"top","t":0.882,"z":0.5865},{"level":-0.8,"seg":"d","t":0.892,"z":0.5865},{"level":-0.8,"seg":"d","t":0.902,"z":0.568},{"level":-0.8,"seg":"d","t":0.912,"z":0.539},{"level":-0.8,"seg":"d","t":0.921,"z":0.525},{"level":-0.8,"seg":"d","t":0.93,"z":0.539},{"level":-0.8,"seg":"d","t":0.94,"z":0.568},{"level":-0.8,"seg":"d","t":0.948,"z":0.5865},{"level":-0.8,"seg":"top","t":0.958,"z":0.5865},{"level":-0.8,"seg":"top","t":0.995,"z":0.5865},
{"level":-0.9,"seg":"top","t":0.03,"z":0.5865},{"level":-0.9,"seg":"top","t":0.038,"z":0.5865},{"level":-0.9,"seg":"a","t":0.045,"z":0.5865},{"level":-0.9,"seg":"a","t":0.06,"z":0.571},{"level":-0.9,"seg":"a","t":0.08,"z":0.562},{"level":-0.9,"seg":"a","t":0.1,"z":0.574},{"level":-0.9,"seg":"a","t":0.116,"z":0.5865},{"level":-0.9,"seg":"top","t":0.125,"z":0.5865},{"level":-0.9,"seg":"top","t":0.585,"z":0.5865},{"level":-0.9,"seg":"b","t":0.593,"z":0.5865},{"level":-0.9,"seg":"b","t":0.6,"z":0.582},{"level":-0.9,"seg":"b","t":0.616,"z":0.571},{"level":-0.9,"seg":"b","t":0.634,"z":0.565},{"level":-0.9,"seg":"b","t":0.646,"z":0.562},{"level":-0.9,"seg":"b","t":0.672,"z":0.561},{"level":-0.9,"seg":"b","t":0.7,"z":0.563},{"level":-0.9,"seg":"b","t":0.728,"z":0.568},{"level":-0.9,"seg":"b","t":0.753,"z":0.573},{"level":-0.9,"seg":"b","t":0.779,"z":0.577},{"level":-0.9,"seg":"b","t":0.799,"z":0.582},{"level":-0.9,"seg":"b","t":0.823,"z":0.5865},{"level":-0.9,"seg":"top","t":0.832,"z":0.5865},{"level":-0.9,"seg":"top","t":0.898,"z":0.5865},{"level":-0.9,"seg":"c","t":0.906,"z":0.5865},{"level":-0.9,"seg":"c","t":0.915,"z":0.562},{"level":-0.9,"seg":"c","t":0.922,"z":0.554},{"level":-0.9,"seg":"c","t":0.93,"z":0.562},{"level":-0.9,"seg":"c","t":0.939,"z":0.5865},{"level":-0.9,"seg":"top","t":0.948,"z":0.5865},{"level":-0.9,"seg":"top","t":0.96,"z":0.5865},
{"level":-1,"seg":"top","t":0.05,"z":0.5865},{"level":-1,"seg":"top","t":0.057,"z":0.5865},{"level":-1,"seg":"a","t":0.064,"z":0.5865},{"level":-1,"seg":"a","t":0.08,"z":0.584},{"level":-1,"seg":"a","t":0.092,"z":0.5865},{"level":-1,"seg":"top","t":0.1,"z":0.5865},{"level":-1,"seg":"top","t":0.612,"z":0.5865},{"level":-1,"seg":"b","t":0.62,"z":0.5865},{"level":-1,"seg":"b","t":0.641,"z":0.581},{"level":-1,"seg":"b","t":0.672,"z":0.578},{"level":-1,"seg":"b","t":0.7,"z":0.581},{"level":-1,"seg":"b","t":0.728,"z":0.582},{"level":-1,"seg":"b","t":0.753,"z":0.584},{"level":-1,"seg":"b","t":0.784,"z":0.585},{"level":-1,"seg":"b","t":0.799,"z":0.5865},{"level":-1,"seg":"top","t":0.807,"z":0.5865},{"level":-1,"seg":"top","t":0.91,"z":0.5865},{"level":-1,"seg":"c","t":0.917,"z":0.5865},{"level":-1,"seg":"c","t":0.922,"z":0.584},{"level":-1,"seg":"c","t":0.929,"z":0.5865},{"level":-1,"seg":"top","t":0.936,"z":0.5865},{"level":-1,"seg":"top","t":0.945,"z":0.5865},
{"level":0.1,"island":"lens","t":0.191,"z":0.153},{"level":0.1,"island":"lens","t":0.2,"z":0.149},{"level":0.1,"island":"lens","t":0.21,"z":0.154},{"level":0.1,"island":"lens","t":0.2,"z":0.158},{"level":0.1,"island":"lens","t":0.191,"z":0.153}
]},
"resolve":{"axis":{"x":"independent","y":"independent"}},
"layer":[
{"data":{"name":"panel"},"mark":{"type":"rect","color":"#efefef"},"encoding":{
"x":{"field":"t0","type":"quantitative","scale":{"domain":[0,0.995],"nice":false,"zero":false},"axis":{"orient":"bottom","values":[0,0.1,0.2,0.3,0.4,0.5,0.6,0.7,0.8,0.9],"labelExpr":"''+datum.value","title":"t/T","titleFont":"Liberation Sans","titleFontSize":16,"titleFontWeight":"normal","titleColor":"#4a4a4a","titlePadding":6,"labelFont":"Liberation Sans","labelFontSize":15,"labelColor":"#555555","grid":false,"tickSize":-13,"tickColor":"#404040","domainColor":"#404040","labelPadding":24,"zindex":1,"labelFlush":false,"labelOverlap":false}},
"x2":{"field":"t1"},
"y":{"field":"z0","type":"quantitative","scale":{"domain":[-0.5,0.6],"nice":false,"zero":false},"axis":{"orient":"left","values":[-0.5,-0.4,-0.3,-0.2,-0.1,0,0.1,0.2,0.3,0.4,0.5],"labelExpr":"''+datum.value","title":"z/η","titleFont":"Liberation Sans","titleFontSize":16,"titleFontWeight":"normal","titleColor":"#4a4a4a","titlePadding":13,"labelFont":"Liberation Sans","labelFontSize":15,"labelColor":"#555555","grid":false,"tickSize":-13,"tickColor":"#404040","domainColor":"#404040","labelPadding":19.5,"zindex":1,"labelOverlap":false}},
"y2":{"field":"z1"}}},
{"data":{"name":"plot"},"mark":{"type":"rect","color":"#ffffff"},"encoding":{
"x":{"field":"t0","type":"quantitative","scale":{"domain":[0,0.995],"nice":false,"zero":false},"axis":{"orient":"top","values":[0,0.1,0.2,0.3,0.4,0.5,0.6,0.7,0.8,0.9],"labels":false,"title":null,"grid":false,"tickSize":-13,"tickColor":"#404040","domainColor":"#404040","zindex":1}},
"x2":{"field":"t1"},
"y":{"field":"z0","type":"quantitative","scale":{"domain":[-0.5,0.6],"nice":false,"zero":false},"axis":{"orient":"right","values":[-0.5,-0.4,-0.3,-0.2,-0.1,0,0.1,0.2,0.3,0.4,0.5],"labels":false,"title":null,"grid":false,"tickSize":-13,"tickColor":"#404040","domainColor":"#404040","zindex":1}},
"y2":{"field":"z1"}}},
{"data":{"name":"contours"},"mark":{"type":"area","order":false,"line":false,"interpolate":"catmull-rom"},"encoding":{
"x":{"field":"t","type":"quantitative","scale":{"domain":[0,0.995],"nice":false,"zero":false},"axis":null},
"y":{"field":"z","type":"quantitative","scale":{"domain":[-0.5,0.6],"nice":false,"zero":false},"axis":null},
"y2":{"datum":0.5865},
"detail":[{"field":"level"},{"field":"island"}],
"color":{"field":"level","type":"quantitative","scale":{"type":"linear","domain":[-1,-0.9,-0.8,-0.7,-0.6,-0.5,-0.4,-0.3,-0.2,-0.1,0,0.1,0.2,0.3,0.4,0.5],"range":["#3e26a8","#4530d0","#483fe9","#4860fb","#2d7dfe","#2a91e6","#1ea8df","#00b5ca","#2ac3a5","#4ac97f","#80cb58","#b7bd2c","#efb52e","#fec832","#f5d82e","#f9fb15"]},"legend":{"orient":"none","legendX":1261.5,"legendY":-19,"padding":0,"type":"gradient","direction":"vertical","gradientLength":635,"gradientThickness":34,"gradientStrokeColor":"#404040","gradientStrokeWidth":1,"values":[-1,-0.5,0,0.5],"labelExpr":"''+datum.value","title":"log10(concentration)","titleFont":"Liberation Sans","titleFontSize":15,"titleFontWeight":"normal","titleColor":"#4a4a4a","titlePadding":5,"titleAlign":"center","titleAnchor":"middle","labelFont":"Liberation Sans","labelFontSize":15,"labelColor":"#555555","labelOffset":5,"labelOverlap":false,"encoding":{"labels":{"baseline":{"value":"middle"}},"title":{"dx":{"value":-16}}}}}}},
{"data":{"name":"contours"},"transform":[{"filter":"datum.level < 0.5 && datum.seg !== 'top'"}],"mark":{"type":"line","order":false,"color":"#1a1a1a","strokeWidth":1.2,"interpolate":"catmull-rom"},"encoding":{
"x":{"field":"t","type":"quantitative","scale":{"domain":[0,0.995],"nice":false,"zero":false},"axis":null},
"y":{"field":"z","type":"quantitative","scale":{"domain":[-0.5,0.6],"nice":false,"zero":false},"axis":null},
"detail":[{"field":"level"},{"field":"seg"},{"field":"island"}]}}
]}
